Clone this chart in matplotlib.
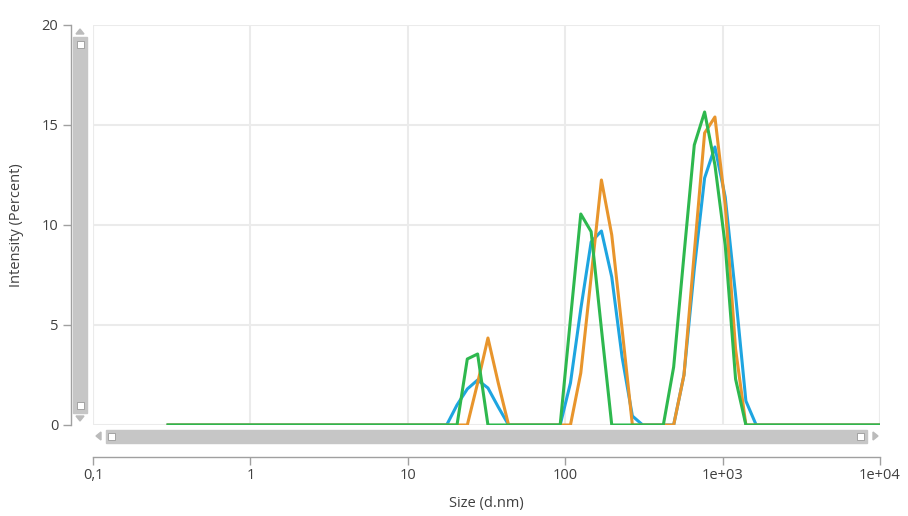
import numpy as np
import matplotlib
matplotlib.use('Agg')
import matplotlib.pyplot as plt
from matplotlib.patches import Rectangle, Polygon

plt.rcParams['font.family'] = ['Open Sans', 'DejaVu Sans']

# size classes (d.nm), 70 bins
sizes = [0.3, 0.3489, 0.4058, 0.4719, 0.5488, 0.6382, 0.7422, 0.8631, 1.0035, 1.167,
         1.357, 1.578, 1.835, 2.134, 2.482, 2.886, 3.357, 3.904, 4.539, 5.279,
         6.139, 7.140, 8.303, 9.655, 11.23, 13.06, 15.19, 17.66, 20.54, 23.88,
         27.77, 32.30, 37.56, 43.68, 50.79, 59.07, 68.69, 79.88, 92.90, 108.0,
         125.6, 146.1, 169.9, 197.6, 229.8, 267.2, 310.7, 361.4, 420.2, 488.7,
         568.3, 660.9, 768.6, 893.8, 1039, 1209, 1406, 1635, 1901, 2211,
         2571, 2990, 3477, 4044, 4702, 5469, 6360, 7396, 8601, 10000]

# non-zero intensities (bin index -> percent)
blue_pts = {28: 1.0, 29: 1.8, 30: 2.25, 31: 1.85, 32: 0.9,
            39: 2.1, 40: 5.8, 41: 9.15, 42: 9.7, 43: 7.4, 44: 3.4, 45: 0.45,
            50: 2.5, 51: 7.8, 52: 12.35, 53: 13.9, 54: 11.4, 55: 6.5, 56: 1.2}
orange_pts = {30: 2.1, 31: 4.35, 32: 2.1,
              40: 2.6, 41: 7.4, 42: 12.25, 43: 9.5, 44: 4.8,
              50: 2.5, 51: 8.6, 52: 14.6, 53: 15.4, 54: 11.0, 55: 3.8}
green_pts = {29: 3.3, 30: 3.55,
             39: 5.3, 40: 10.55, 41: 9.67, 42: 4.8,
             49: 2.9, 50: 8.5, 51: 14.0, 52: 15.65, 53: 13.0, 54: 9.0, 55: 2.3}

blue = [blue_pts.get(i, 0.0) for i in range(len(sizes))]
orange = [orange_pts.get(i, 0.0) for i in range(len(sizes))]
green = [green_pts.get(i, 0.0) for i in range(len(sizes))]

xticks = [0.1, 1, 10, 100, 1000, 10000]
xticklabels = ['0,1', '1', '10', '100', '1e+03', '1e+04']
yticks = [0, 5, 10, 15, 20]

W, H = 908, 516
fig = plt.figure(figsize=(W / 100, H / 100), dpi=100)
ax = fig.add_axes([93 / W, (H - 425) / H, 787 / W, 400 / H])

ax.plot(sizes, blue, color='#1EA5E0', lw=2.2, zorder=3)
ax.plot(sizes, orange, color='#E8952C', lw=2.2, zorder=4)
ax.plot(sizes, green, color='#2EB84E', lw=2.2, zorder=5)

ax.set_xscale('log')
ax.set_xlim(0.1, 10000)
ax.set_ylim(0, 20)
ax.set_xticks(xticks)
ax.set_xticklabels(xticklabels)
ax.xaxis.set_minor_locator(matplotlib.ticker.NullLocator())
ax.set_yticks(yticks)

ax.grid(True, color='#EBEBEB', lw=1.5, zorder=0)
ax.set_axisbelow(True)
for s in ['top', 'right']:
    ax.spines[s].set_visible(False)
ax.spines['left'].set_position(('outward', 16))
ax.spines['bottom'].set_position(('outward', 23))
for s in ['left', 'bottom']:
    ax.spines[s].set_color('#A0A0A0')
    ax.spines[s].set_linewidth(1.0)
ax.tick_params(axis='both', colors='#A0A0A0', length=6, width=1.0,
               labelcolor='#404040', labelsize=10.5)
ax.tick_params(axis='y', pad=3)
ax.tick_params(axis='x', pad=2)
# edge gridlines
ax.axvline(0.1, color='#EBEBEB', lw=1.5, zorder=0)
ax.axvline(10000, color='#EBEBEB', lw=1.5, zorder=0)

ax.set_xlabel('Size (d.nm)', fontsize=10.5, color='#404040', labelpad=9)
fig.text(17 / W, 1 - 225 / H, 'Intensity (Percent)', rotation=90, fontsize=10.5,
         color='#404040', ha='center', va='center')

# scrollbars (decoration, figure pixels)
def fx(px):
    return px / W

def fy(py):
    return 1 - py / H

sb = '#C6C6C6'
fig.patches.append(Rectangle((fx(73), fy(413)), fx(14), 376 / H, color=sb,
                             transform=fig.transFigure, figure=fig))
fig.patches.append(Rectangle((fx(76.5), fy(48)), fx(7), 7 / H, facecolor='white',
                             edgecolor='#999999', lw=0.6, transform=fig.transFigure, figure=fig))
fig.patches.append(Rectangle((fx(76.5), fy(409)), fx(7), 7 / H, facecolor='white',
                             edgecolor='#999999', lw=0.6, transform=fig.transFigure, figure=fig))
fig.patches.append(Polygon([(fx(76), fy(34)), (fx(84), fy(34)), (fx(80), fy(29))], closed=True,
                           color='#BBBBBB', transform=fig.transFigure, figure=fig))
fig.patches.append(Polygon([(fx(76), fy(416)), (fx(84), fy(416)), (fx(80), fy(421))], closed=True,
                           color='#BBBBBB', transform=fig.transFigure, figure=fig))

fig.patches.append(Rectangle((fx(106), fy(443)), 761 / W, 13 / H, color=sb,
                             transform=fig.transFigure, figure=fig))
fig.patches.append(Rectangle((fx(108), fy(440)), fx(7), 7 / H, facecolor='white',
                             edgecolor='#999999', lw=0.6, transform=fig.transFigure, figure=fig))
fig.patches.append(Rectangle((fx(857), fy(440)), fx(7), 7 / H, facecolor='white',
                             edgecolor='#999999', lw=0.6, transform=fig.transFigure, figure=fig))
fig.patches.append(Polygon([(fx(101), fy(432)), (fx(101), fy(440)), (fx(96), fy(436))], closed=True,
                           color='#BBBBBB', transform=fig.transFigure, figure=fig))
fig.patches.append(Polygon([(fx(873), fy(432)), (fx(873), fy(440)), (fx(878), fy(436))], closed=True,
                           color='#BBBBBB', transform=fig.transFigure, figure=fig))

fig.savefig('out.png', dpi=100)
